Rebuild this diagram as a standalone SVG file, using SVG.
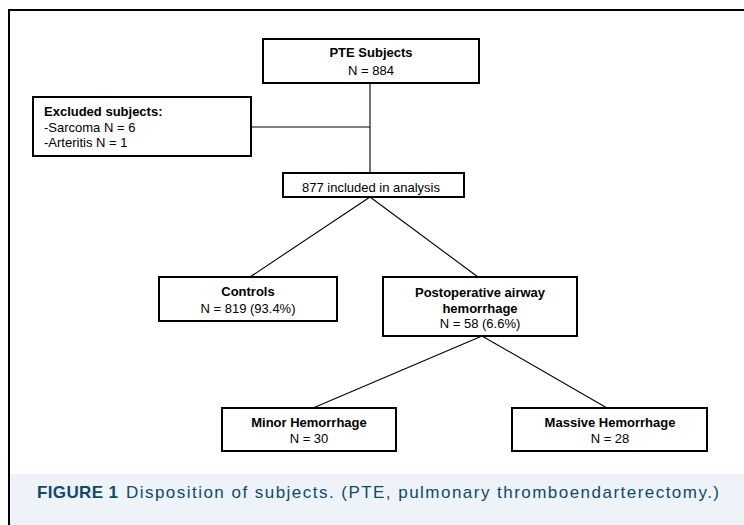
<svg xmlns="http://www.w3.org/2000/svg" width="744" height="525" viewBox="0 0 744 525">
<style>
.box{fill:#fff;stroke:#000;stroke-width:2}
.t{font-family:"Liberation Sans",Arial,sans-serif;font-size:13px;fill:#000;text-anchor:middle}
.b{font-weight:bold}
.l{text-anchor:start}
.con line{stroke:#000;stroke-width:1.1}
.cap{font-family:"Liberation Sans",Arial,sans-serif;font-size:17px;fill:#0f4a6a}
</style>
<rect x="0" y="0" width="744" height="525" fill="#fff"/>
<rect x="10" y="474" width="734" height="51" fill="#eef3fa"/>
<path d="M9 525 V10 H744" fill="none" stroke="#000" stroke-width="2"/>
<g class="con">
<line x1="370" y1="83" x2="370" y2="173"/>
<line x1="251" y1="127" x2="370" y2="127"/>
<line x1="370" y1="197" x2="250" y2="277"/>
<line x1="370" y1="197" x2="478" y2="277"/>
<line x1="482" y1="336" x2="313" y2="408"/>
<line x1="482" y1="336" x2="607" y2="408"/>
</g>
<g id="pte">
<rect class="box" x="263" y="39" width="216" height="44"/>
<text class="t b" x="371" y="57">PTE Subjects</text>
<text class="t" x="371" y="75">N = 884</text>
</g>
<g id="excluded">
<rect class="box" x="33" y="97" width="218" height="59"/>
<text class="t b l" x="44" y="116">Excluded subjects:</text>
<text class="t l" x="44" y="132">-Sarcoma N = 6</text>
<text class="t l" x="44" y="147">-Arteritis N = 1</text>
</g>
<g id="included">
<rect class="box" x="283" y="173" width="181" height="24"/>
<text class="t" x="371" y="192">877 included in analysis</text>
</g>
<g id="controls">
<rect class="box" x="159" y="277" width="178" height="44"/>
<text class="t b" x="248" y="296">Controls</text>
<text class="t" x="248" y="313">N = 819 (93.4%)</text>
</g>
<g id="postop">
<rect class="box" x="383" y="277" width="194" height="59"/>
<text class="t b" x="480" y="297">Postoperative airway</text>
<text class="t b" x="480" y="313">hemorrhage</text>
<text class="t" x="480" y="328">N = 58 (6.6%)</text>
</g>
<g id="minor">
<rect class="box" x="222" y="408" width="174" height="43"/>
<text class="t b" x="309" y="427">Minor Hemorrhage</text>
<text class="t" x="309" y="443">N = 30</text>
</g>
<g id="massive">
<rect class="box" x="512" y="408" width="195" height="43"/>
<text class="t b" x="610" y="427">Massive Hemorrhage</text>
<text class="t" x="610" y="443">N = 28</text>
</g>
<g id="caption">
<text class="cap" x="37" y="498" font-weight="900" textLength="81" lengthAdjust="spacing">FIGURE 1</text>
<text class="cap" x="126" y="498" textLength="593" lengthAdjust="spacing">Disposition of subjects. (PTE, pulmonary thromboendarterectomy.)</text>
</g>
</svg>
